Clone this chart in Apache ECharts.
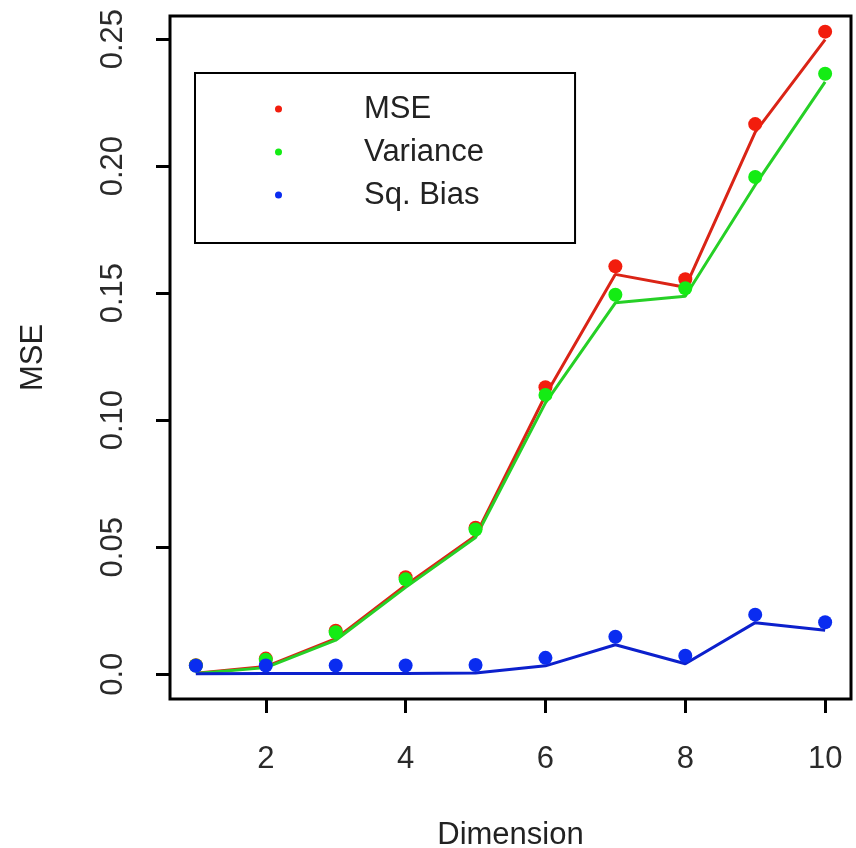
<!DOCTYPE html>
<html>
<head>
<meta charset="utf-8">
<title>MSE by dimension</title>
<script src="https://cdn.jsdelivr.net/npm/echarts@6/dist/echarts.min.js"></script>
<style>
  html, body { margin: 0; padding: 0; background: #ffffff; }
  #chart { width: 856px; height: 848px; }
</style>
</head>
<body>
<div id="chart"></div>
<script>
// Dimension of the problem (x values)
const dimensions = [1, 2, 3, 4, 5, 6, 7, 8, 9, 10];

// Mean squared error and its decomposition at each dimension
const mseValues      = [0.0004, 0.0030, 0.0140, 0.0350, 0.0545, 0.1098, 0.1574, 0.1523, 0.2134, 0.2498];
const varianceValues = [0.0003, 0.0026, 0.0134, 0.0342, 0.0538, 0.1068, 0.1462, 0.1488, 0.1926, 0.2332];
const sqBiasValues   = [0.0002, 0.0003, 0.0003, 0.0003, 0.0005, 0.0033, 0.0116, 0.0041, 0.0203, 0.0173];

// Axis ticks and their labels
const xTicks = [2, 4, 6, 8, 10];
const yTicks = [0, 0.05, 0.10, 0.15, 0.20, 0.25];
const yTickLabels = ['0.0', '0.05', '0.10', '0.15', '0.20', '0.25'];

const FONT = '"Liberation Sans", Arial, Helvetica, sans-serif';
const TEXT_SIZE = 31;

function pairs(values) {
  return dimensions.map((d, i) => [d, values[i]]);
}

function makeSeries(name, values, pointColor, lineColor) {
  return {
    name: name,
    type: 'line',
    data: pairs(values),
    symbol: 'circle',
    symbolSize: 14,
    symbolOffset: [0, -8],
    showSymbol: true,
    itemStyle: { color: pointColor },
    lineStyle: { color: lineColor, width: 3 },
    emphasis: { disabled: true },
    animation: false
  };
}

const chart = echarts.init(document.getElementById('chart'), null, { renderer: 'canvas' });

chart.setOption({
  backgroundColor: '#ffffff',
  animation: false,
  grid: {
    left: 170,
    right: 5,
    top: 16,
    bottom: 149,
    containLabel: false,
    outerBoundsMode: 'none',
    show: true,
    borderColor: '#000000',
    borderWidth: 3,
    backgroundColor: 'transparent'
  },
  legend: {
    left: 195,
    top: 73,
    orient: 'vertical',
    icon: 'circle',
    itemWidth: 7,
    itemHeight: 7,
    itemGap: 9,
    padding: [19, 91, 31, 80],
    borderColor: '#000000',
    borderWidth: 2,
    backgroundColor: '#ffffff',
    textStyle: {
      fontFamily: FONT,
      fontSize: TEXT_SIZE,
      color: '#222222',
      lineHeight: 34,
      padding: [0, 0, 0, 77]
    },
    data: ['MSE', 'Variance', 'Sq. Bias']
  },
  xAxis: {
    type: 'value',
    min: 0.63,
    max: 10.37,
    name: 'Dimension',
    nameLocation: 'middle',
    nameGap: 121,
    nameTextStyle: { fontFamily: FONT, fontSize: TEXT_SIZE, color: '#222222' },
    axisLine: { show: false, onZero: false },
    splitLine: { show: false },
    axisTick: {
      show: true,
      inside: false,
      length: 14,
      customValues: xTicks,
      lineStyle: { color: '#000000', width: 3 }
    },
    axisLabel: {
      customValues: xTicks,
      margin: 45,
      fontFamily: FONT,
      fontSize: TEXT_SIZE,
      color: '#2a2a2a'
    }
  },
  yAxis: {
    type: 'value',
    min: -0.00975,
    max: 0.2591,
    name: 'MSE',
    nameLocation: 'middle',
    nameRotate: 90,
    nameGap: 121,
    nameTextStyle: { fontFamily: FONT, fontSize: TEXT_SIZE, color: '#222222' },
    axisLine: { show: false, onZero: false },
    splitLine: { show: false },
    axisTick: {
      show: true,
      inside: false,
      length: 14,
      customValues: yTicks,
      lineStyle: { color: '#000000', width: 3 }
    },
    axisLabel: {
      customValues: yTicks,
      rotate: 90,
      margin: 41,
      fontFamily: FONT,
      fontSize: TEXT_SIZE,
      color: '#2a2a2a',
      formatter: function (v) {
        const i = yTicks.findIndex(t => Math.abs(t - v) < 1e-9);
        return i >= 0 ? yTickLabels[i] : '';
      }
    }
  },
  series: [
    makeSeries('MSE', mseValues, '#f21d0d', '#da2416'),
    makeSeries('Variance', varianceValues, '#14ec14', '#26d026'),
    makeSeries('Sq. Bias', sqBiasValues, '#0a2cf0', '#0c20cc')
  ]
});
</script>
</body>
</html>
